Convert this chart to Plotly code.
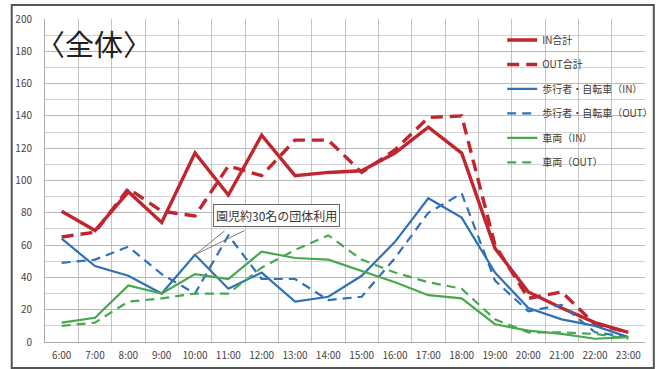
import plotly.graph_objects as go

hours = ["6:00", "7:00", "8:00", "9:00", "10:00", "11:00", "12:00", "13:00", "14:00",
         "15:00", "16:00", "17:00", "18:00", "19:00", "20:00", "21:00", "22:00", "23:00"]

in_total = [81, 69, 93, 74, 117, 91, 128, 103, 105, 106, 117, 133, 117, 58, 31, 21, 12, 6]
out_total = [65, 68, 95, 81, 78, 109, 103, 125, 125, 105, 119, 139, 140, 60, 27, 31, 11, 6]
ped_in = [64, 47, 41, 30, 54, 33, 43, 25, 28, 41, 62, 89, 77, 43, 21, 14, 10, 3]
ped_out = [49, 51, 59, 42, 30, 66, 39, 39, 26, 28, 52, 80, 92, 38, 19, 23, 6, 3]
veh_in = [12, 15, 35, 30, 42, 39, 56, 52, 51, 44, 37, 29, 27, 11, 7, 5, 2, 3]
veh_out = [10, 12, 25, 27, 30, 30, 46, 57, 66, 51, 43, 37, 33, 14, 6, 6, 5, 2]

names = ["IN合計", "OUT合計", "歩行者・自転車（IN）", "歩行者・自転車（OUT）", "車両（IN）", "車両（OUT）"]

RED = "#C0262E"
BLUE = "#2F72B5"
GREEN = "#48A84E"
FONT = "Noto Sans CJK JP"

series = [
    (in_total, RED, 3.4, "solid"),
    (out_total, RED, 3.4, "12px,7px"),
    (ped_in, BLUE, 2.2, "solid"),
    (ped_out, BLUE, 2.2, "9px,6px"),
    (veh_in, GREEN, 2.2, "solid"),
    (veh_out, GREEN, 2.2, "9px,6px"),
]

fig = go.Figure()
for i, (vals, col, w, dash) in enumerate(series):
    fig.add_trace(go.Scatter(
        x=hours, y=vals, name=names[i], mode="lines",
        line=dict(color=col, width=w, dash=dash),
        legendgroup=f"g{i}",
    ))

fig.update_layout(
    width=669, height=369,
    margin=dict(l=45, r=11, t=19, b=27),
    paper_bgcolor="white", plot_bgcolor="white",
    font=dict(family=FONT, color="#444", size=10),
    showlegend=True,
    legend=dict(
        x=0.762, y=0.98, xanchor="left", yanchor="top",
        bgcolor="rgba(255,255,255,0)", borderwidth=0,
        font=dict(family=FONT, size=10, color="#3a3a3a"),
        tracegroupgap=5.5, itemwidth=30,
    ),
    xaxis=dict(
        type="category", tickson="boundaries", showgrid=True,
        range=[-0.5, 17.5], tickangle=0, automargin=False,
        gridcolor="#c4c4c4", gridwidth=1, ticks="", showline=True,
        linecolor="#aaa", linewidth=1, tickfont=dict(size=10, color="#444"),
        ticklabelstandoff=4, fixedrange=True,
    ),
    yaxis=dict(
        range=[0, 200], dtick=20, showgrid=True, gridcolor="#b8b8b8",
        gridwidth=1, ticks="", showline=True, linecolor="#aaa", linewidth=1,
        zeroline=False, tickfont=dict(size=10, color="#444"),
        ticklabelstandoff=10, automargin=False,
        minor=dict(dtick=10, showgrid=True, gridcolor="#d2d2d2", gridwidth=1),
    ),
)

# Title inside plot
fig.add_annotation(
    xref="paper", yref="paper", x=(95 - 45) / 613, y=(342 - 43) / 323,
    text="〈全体〉", showarrow=False, xanchor="center", yanchor="middle",
    font=dict(family=FONT, size=29, color="#222"),
)

# Callout wedge (two lines to the 10:00 point)
for ax in (31, 51):
    fig.add_annotation(
        x=hours[4], y=ped_in[4], xref="x", yref="y", text="",
        showarrow=True, arrowhead=0, arrowwidth=1, arrowcolor="#777",
        ax=ax, ay=-25, standoff=0, startstandoff=0,
    )

# Callout box
fig.add_annotation(
    xref="paper", yref="paper", x=(282 - 45) / 613, y=(342 - 215) / 323,
    text="園児約30名の団体利用", showarrow=False,
    xanchor="center", yanchor="middle",
    font=dict(family=FONT, size=12, color="#333"),
    bgcolor="white", bordercolor="#666", borderwidth=1, borderpad=2,
)

# Outer frame
fig.add_shape(
    type="rect", xref="paper", yref="paper",
    x0=(11 - 45) / 613, x1=(667 - 45) / 613,
    y0=(342 - 368) / 323, y1=(342 - 5) / 323,
    line=dict(color="#555", width=2), fillcolor="rgba(0,0,0,0)", layer="above",
)

fig.write_html("out.html")
